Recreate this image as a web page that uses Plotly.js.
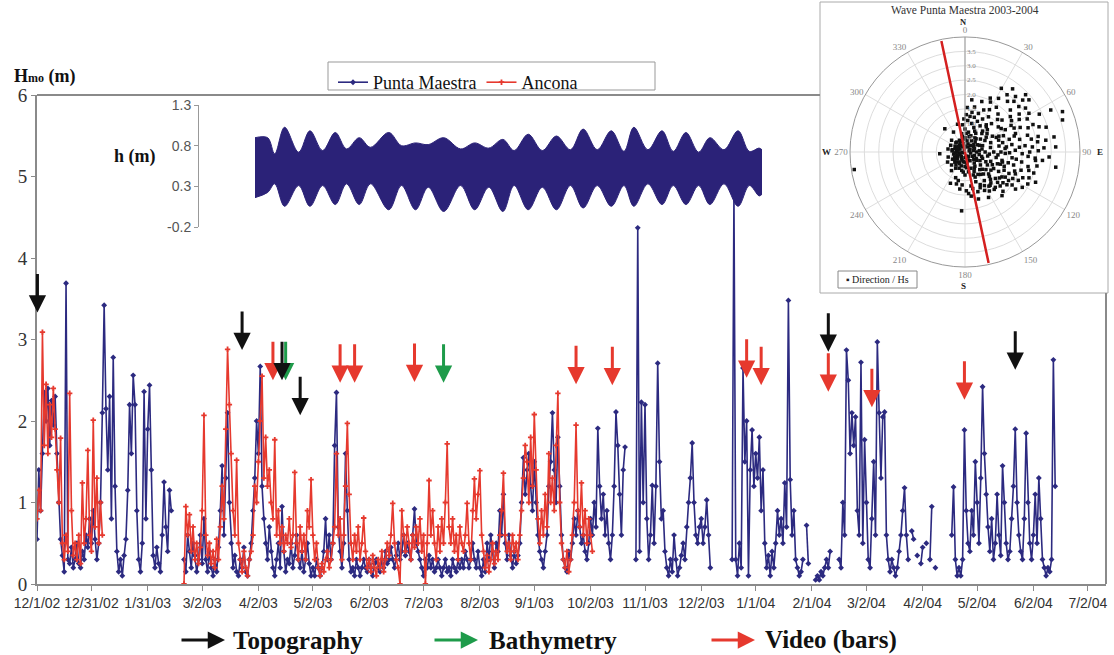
<!DOCTYPE html>
<html>
<head>
<meta charset="utf-8">
<script src="https://cdn.plot.ly/plotly-3.0.1.min.js"></script>
<style>html,body{margin:0;padding:0;background:#fff;}#chart{width:1114px;height:655px;}</style>
</head>
<body>
<div id="chart"></div>
<script>
// ---------------- DATA ----------------
// Daily Hmo (m), index = days since 2002-12-01 (null = no record)
const pmHs = [
/*0*/   0.55,1.4,0.9,1.6,2.35,2.0,2.4,1.7,2.25,1.95,
/*10*/  2.3,1.6,1.0,0.55,0.35,0.15,3.69,0.3,0.25,0.45,
/*20*/  0.2,0.3,0.5,0.25,0.2,0.4,0.3,0.6,0.45,0.8,
/*30*/  0.5,0.9,0.55,0.3,0.5,1.0,2.1,3.42,2.15,1.4,
/*40*/  2.3,0.8,2.78,1.2,0.4,0.15,0.3,0.1,0.35,0.55,
/*50*/  1.15,2.2,1.6,2.56,2.2,0.9,0.3,0.15,0.5,2.36,
/*60*/  0.8,1.9,2.44,1.4,0.35,0.2,0.45,0.25,0.15,0.6,
/*70*/  1.25,0.7,0.4,1.15,0.9,null,null,null,null,null,
/*80*/  null,0.3,0.15,0.6,0.4,0.2,0.5,0.35,0.15,0.3,
/*90*/  0.6,0.25,0.8,0.3,0.15,0.4,0.2,0.1,0.3,0.15,
/*100*/ 0.45,0.9,1.45,0.6,1.3,2.1,1.0,0.5,0.2,0.35,
/*110*/ 0.15,0.1,0.3,0.2,0.45,0.15,0.1,0.3,0.5,0.9,
/*120*/ 1.3,2.0,1.6,2.67,1.2,0.8,0.5,0.3,0.7,0.4,
/*130*/ 0.2,0.1,0.3,0.5,0.2,0.95,0.4,0.15,0.3,0.25,
/*140*/ 0.5,0.2,0.35,0.6,0.3,0.2,0.4,0.15,0.3,0.5,
/*150*/ 0.25,0.1,0.2,0.1,0.3,0.2,0.1,0.2,0.4,0.8,
/*160*/ 0.3,0.6,0.3,0.5,1.7,2.35,0.7,0.4,0.2,0.5,
/*170*/ 1.6,0.9,0.3,0.15,0.2,0.1,0.3,0.2,0.1,0.2,
/*180*/ 0.3,0.2,0.15,0.3,0.2,0.1,0.25,0.3,0.2,0.15,
/*190*/ 0.3,0.2,0.4,0.25,0.3,0.45,0.3,0.2,0.35,0.5,
/*200*/ 0.3,0.4,0.6,0.35,0.5,0.4,0.3,0.6,0.92,0.5,
/*210*/ 0.4,0.3,0.2,0.1,0.3,0.2,0.35,0.2,0.3,0.15,
/*220*/ 0.2,0.3,0.2,0.1,0.2,0.3,0.15,0.2,0.1,0.3,
/*230*/ 0.2,0.15,0.3,0.2,0.3,0.2,0.4,0.3,0.2,0.3,
/*240*/ 0.5,0.3,0.2,0.4,0.2,0.1,0.3,0.15,0.5,0.3,
/*250*/ 0.6,0.4,0.2,0.5,0.4,0.9,0.6,1.1,0.5,0.3,
/*260*/ 0.6,0.35,0.2,0.4,0.25,0.35,0.5,1.0,1.55,1.1,
/*270*/ 1.4,1.6,1.2,0.9,1.5,1.0,0.6,0.4,0.3,0.2,
/*280*/ 0.4,0.6,1.2,1.5,2.1,1.4,1.0,1.8,1.2,0.6,
/*290*/ 0.3,0.2,0.15,0.4,0.3,0.5,0.8,0.6,0.9,0.7,
/*300*/ 0.5,0.6,0.4,0.3,0.5,0.8,0.6,1.0,0.7,1.91,
/*310*/ 1.2,0.8,1.1,0.6,0.9,0.5,0.3,0.6,1.2,2.11,
/*320*/ 1.7,1.1,0.6,1.4,1.68,null,null,null,null,null,
/*330*/ 0.3,4.37,0.4,2.23,1.0,2.2,0.8,0.3,0.6,1.21,
/*340*/ 0.5,1.2,2.71,1.5,0.8,0.9,0.4,0.2,0.1,0.3,
/*350*/ 0.15,0.6,0.3,0.1,0.2,0.35,0.5,0.3,0.7,1.0,
/*360*/ 1.3,1.73,1.0,0.6,0.5,0.7,0.8,0.5,0.7,1.03,
/*370*/ 0.6,0.2,null,null,null,null,null,null,null,null,
/*380*/ null,null,null,0.3,4.8,0.3,0.1,0.5,0.2,2.65,
/*390*/ 1.5,2.0,0.1,1.4,1.89,1.2,1.6,1.3,1.8,0.9,
/*400*/ 1.4,0.5,0.2,0.35,0.1,0.4,0.2,0.5,0.9,0.6,
/*410*/ 0.8,0.5,1.24,0.7,3.48,1.28,0.6,0.9,0.3,0.2,
/*420*/ 0.1,0.15,0.3,null,0.72,0.25,null,null,null,0.05,
/*430*/ 0.1,0.05,0.15,0.1,0.2,0.3,0.2,0.4,null,null,
/*440*/ null,null,0.3,0.2,1.0,0.6,2.87,2.5,1.6,2.1,
/*450*/ 1.7,2.05,0.9,0.6,2.72,0.5,1.77,1.0,0.3,0.2,
/*460*/ 0.8,1.5,0.6,2.97,2.1,1.3,2.05,2.11,0.6,0.3,
/*470*/ 0.15,0.3,0.2,0.1,0.2,0.4,0.6,0.9,1.18,0.6,
/*480*/ 0.3,null,0.65,0.55,null,0.35,null,0.25,0.45,null,
/*490*/ 0.5,null,0.3,0.95,null,0.2,null,null,null,null,
/*500*/ null,null,null,null,0.6,1.19,0.3,0.1,0.2,0.1,
/*510*/ 0.3,1.89,0.9,0.5,0.4,0.9,0.6,1.5,1.0,0.5,
/*520*/ 1.3,2.42,1.6,1.1,0.7,0.4,0.8,0.3,0.5,1.1,
/*530*/ 0.6,0.35,1.45,1.0,0.5,0.3,0.4,0.8,1.2,1.9,
/*540*/ 1.0,0.6,0.4,0.3,0.8,1.85,1.0,0.5,0.3,0.6,
/*550*/ 1.1,0.5,1.3,0.8,0.3,0.2,0.1,0.2,0.15,0.3,
/*560*/ 2.75,1.2
];
const anHs = [
/*0*/   0.8,1.15,0.9,3.09,1.7,2.45,1.6,2.2,1.8,2.4,
/*10*/  1.9,1.4,1.0,1.79,0.5,0.3,0.6,0.4,2.34,0.9,
/*20*/  0.35,0.5,0.3,0.6,0.25,1.24,0.5,0.8,1.64,0.6,
/*30*/  0.4,2.01,0.7,1.3,0.5,1.0,0.6,null,null,null,
/*40*/  null,null,null,null,null,null,null,null,null,null,
/*50*/  null,null,null,null,null,null,null,null,null,null,
/*60*/  null,null,null,null,null,null,null,null,null,null,
/*70*/  null,null,null,null,null,null,null,null,null,null,
/*80*/  null,0.0,0.95,0.6,0.85,0.4,0.7,0.3,0.5,0.25,
/*90*/  0.45,0.9,2.07,0.6,0.35,0.5,0.25,0.4,0.2,0.55,
/*100*/ 0.3,0.7,1.2,0.8,1.9,2.88,2.2,1.6,0.9,0.6,
/*110*/ 1.52,0.5,0.3,0.15,0.4,0.2,0.1,0.3,0.4,0.6,
/*120*/ 1.2,1.0,1.5,2.0,2.55,1.3,1.8,1.2,1.4,1.0,
/*130*/ 0.8,1.77,0.6,0.9,0.5,0.7,0.4,0.6,0.5,0.8,
/*140*/ 0.45,0.6,1.37,0.5,0.3,0.7,0.4,0.6,0.3,0.9,
/*150*/ 0.7,1.28,0.6,0.3,0.5,0.2,0.1,0.25,0.15,0.3,
/*160*/ 0.4,0.2,0.3,0.5,0.7,1.6,0.6,0.8,0.3,0.6,
/*170*/ 1.2,1.97,1.1,0.5,0.3,0.6,0.4,0.7,0.3,0.5,
/*180*/ 0.81,0.4,0.2,0.3,0.15,0.35,0.2,0.1,0.3,0.2,
/*190*/ 0.4,0.15,0.3,0.5,0.35,0.6,0.99,0.5,0.3,0.2,
/*200*/ 0.0,0.9,0.6,0.4,0.7,0.5,0.3,0.6,0.45,0.7,
/*210*/ 0.5,0.8,0.4,0.6,0.0,0.5,1.27,0.6,0.9,0.5,
/*220*/ 0.3,0.7,0.4,0.8,0.5,1.0,1.72,0.7,0.5,0.8,
/*230*/ 0.4,0.6,0.3,0.7,0.5,0.4,0.6,0.99,0.5,0.3,
/*240*/ 0.9,1.29,0.8,1.1,1.39,0.6,0.4,0.2,0.35,0.15,
/*250*/ 0.3,0.5,0.25,0.4,0.3,0.6,0.9,1.36,0.6,0.4,
/*260*/ 0.5,0.3,0.6,0.4,0.5,0.3,0.6,0.9,1.3,1.7,
/*270*/ 1.5,1.0,1.8,1.2,2.08,1.4,0.8,0.5,0.9,0.6,
/*280*/ 1.1,0.7,1.6,1.0,1.3,0.9,1.7,2.34,1.0,0.5,
/*290*/ 0.3,0.2,0.4,0.15,0.3,0.6,1.0,1.95,0.9,0.7,
/*300*/ 1.24,0.6,0.9,0.5,0.8,0.6,0.4
];
const startDate = '2002-12-01';

// x-axis tick labels
const tickDates = ['2002-12-01','2002-12-31','2003-01-31','2003-03-02','2003-04-02','2003-05-02','2003-06-02','2003-07-02','2003-08-02','2003-09-01','2003-10-02','2003-11-01','2003-12-02','2004-01-01','2004-02-01','2004-03-02','2004-04-02','2004-05-02','2004-06-02','2004-07-02'];
const tickLabels = ['12/1/02','12/31/02','1/31/03','3/2/03','4/2/03','5/2/03','6/2/03','7/2/03','8/2/03','9/1/03','10/2/03','11/1/03','12/2/03','1/1/04','2/1/04','3/2/04','4/2/04','5/2/04','6/2/04','7/2/04'];

// survey events (arrow tip level in Hmo units)
const videoDates  = ['2003-04-10','2003-05-17','2003-05-25','2003-06-27','2003-09-24','2003-10-14','2003-12-27','2004-01-04','2004-02-10','2004-03-05','2004-04-25'];
const videoLevels = [2.50,2.47,2.47,2.48,2.45,2.44,2.53,2.44,2.36,2.17,2.26];
const bathyDates  = ['2003-04-17','2003-07-13'];
const bathyLevels = [2.50,2.47];
const topoDates   = ['2002-12-01T06:00','2003-03-24','2003-04-15','2003-04-25','2004-02-10','2004-05-23'];
const topoLevels  = [3.33,2.87,2.50,2.07,2.85,2.63];

// tide inset: envelope of water level h (m)
const tideDay   = [0,9,14,21,31,39,48,57,65,74,82,95,104,114,123,134,146,156,166,176,184,194,204,214,224,233,243,253,262,269,279,289,297,306,315,323,333,343,351,358,360];
const tideHigh  = [0.898,0.898,0.70,1.026,0.72,0.983,0.74,0.962,0.76,0.898,0.78,0.962,0.80,0.834,0.813,0.898,0.76,0.834,0.77,0.877,0.74,0.941,0.74,0.919,0.75,1.004,0.75,0.983,0.73,1.026,0.75,0.983,0.73,0.962,0.72,0.898,0.75,0.983,0.73,0.770,0.749];
const tideLow   = [0.161,0.225,0.331,0.054,0.310,0.054,0.310,0.076,0.331,0.076,0.331,0.012,0.310,0.012,0.289,-0.009,0.310,0.012,0.289,-0.009,0.310,0.012,0.289,0.012,0.310,0.033,0.310,0.054,0.310,0.054,0.331,0.076,0.310,0.076,0.310,0.076,0.331,0.054,0.310,0.182,0.203];
const tideTicks = [1.3,0.8,0.3,-0.2];

// polar inset: wave direction (deg) / Hs (m)
const waveDir = [29.7,36.3,42.3,46.6,50.8,63.9,67.5,71.8,80.4,86.8,93.4,99.5,113.2,121.7,126.3,139.7,152.6,164,183.3,266,319,7.4,18.4,25.1,261,47.2,49.8,58.8,71.2,81.7,85.7,96.2,106.1,113.5,123.2,139.4,70.6,69.9,49.2,33.7,19.2,13.3,91.7,96.8,102.8,132.9,158,193.3,216,253.3,311.3,349.8,42.4,
35,40,45,52,55,57,60,62,65,66,68,74,75,77,78,83,84,88,89,92,94,98,101,104,108,110,112,116,118,120,124,128,131,134,137,143,146,150,155,160,28,24,30,38,43,15,10,5,2,355,345,200,205,188,175,170,226,240,280,295,330,
32,37,41,44,48,53,54,56,59,61,63,64,67,69,72,73,76,79,81,82,85,87,90,91,95,97,100,103,105,107,109,111,114,115,117,119,122,125,127,129,133,136,140,142,145,148,153,157,162,168,172,178,185,195,22,27,12,8,358,3,
0,0,0,20,20,20,40,40,40,40,60,60,60,60,80,80,80,80,100,100,100,100,120,120,120,120,140,140,140,140,160,160,160,180,180,180,200,200,220,220,240,240,260,260,280,280,300,300,320,320,340,340,10,10,30,30,30,50,50,50,70,70,70,90,90,90,90,110,110,110,110,130,130,130,150,150,150,170,170,190,190,210,210,230,250,270,290,310,330,350,350,75,165,255,345,
15,25,35,45,55,65,85,95,105,115,125,135,145,155,175,185,195,205,215,225,235,245,265,275,285,305,315,325,335,355,5,45,65,85,95,105,115,125,135,145,60,120,180,240,300,30,150,210];
const waveHs = [2.55,2.47,2.61,2.9,2.87,3.32,3.67,3.57,3.14,3.16,2.93,3.2,2.67,2.34,2.18,1.99,1.78,1.7,2.05,0.88,1.07,1.83,1.85,2.07,3.9,2.15,2.45,2.6,2.72,2.84,2.35,2.71,2.31,1.91,1.81,1.62,1.24,1.87,1.7,1.47,1.42,1.02,1.99,2.47,1.32,1.12,0.94,1.02,0.8,0.61,0.62,0.65,0.87,
1.9,2.3,1.6,2.0,2.3,1.5,1.85,2.45,1.3,2.1,2.55,1.6,2.25,1.95,2.6,1.45,2.1,1.75,2.55,1.4,2.2,1.8,2.55,1.55,2.05,1.45,2.4,1.7,2.1,1.35,1.55,1.85,1.4,1.7,1.3,1.45,1.2,1.35,1.25,1.1,1.3,1.6,1.7,1.2,1.35,1.25,1.4,1.1,1.3,0.95,1.0,0.95,1.2,1.3,1.45,1.2,0.65,0.7,0.6,0.55,0.8,
2.2,2.75,1.75,2.45,2.7,1.45,2.6,1.95,2.2,1.6,2.9,1.9,1.45,2.35,1.8,2.95,1.35,2.35,1.65,2.55,1.9,2.75,2.25,1.55,2.45,1.65,2.0,2.25,1.75,2.5,1.3,1.85,2.2,1.5,2.45,1.9,1.65,2.0,1.5,1.7,1.55,1.9,1.4,1.65,1.45,1.6,1.5,1.35,1.45,1.3,1.55,1.35,1.15,1.15,1.15,1.95,1.6,1.25,1.15,1.55,
0.2,0.5,0.8,0.3,0.6,0.9,0.3,0.6,0.95,1.15,0.2,0.5,0.8,1.1,0.3,0.6,0.9,1.2,0.2,0.5,0.8,1.1,0.3,0.6,0.9,1.15,0.2,0.5,0.8,1.0,0.3,0.6,0.85,0.2,0.5,0.8,0.3,0.6,0.2,0.45,0.3,0.5,0.2,0.4,0.3,0.45,0.2,0.4,0.3,0.45,0.2,0.4,0.4,0.7,0.45,0.75,1.05,0.4,0.7,1.0,0.35,0.65,0.95,0.4,0.7,1.0,1.25,0.35,0.65,0.95,1.2,0.4,0.7,0.95,0.35,0.65,0.9,0.4,0.7,0.35,0.65,0.4,0.65,0.35,0.3,0.3,0.35,0.3,0.35,0.3,0.55,0.15,0.15,0.1,0.1,
0.55,0.8,0.6,0.5,0.9,0.55,0.5,0.85,0.6,0.8,0.5,0.85,0.6,0.75,0.55,0.7,0.5,0.45,0.55,0.5,0.45,0.4,0.35,0.45,0.25,0.3,0.45,0.25,0.45,0.45,0.65,1.1,1.2,1.4,1.15,1.35,1.05,1.1,1.2,0.95,0.35,0.45,0.35,0.2,0.3,0.2,0.2,0.25];
const trendDir = [348,348,168];
const trendHs  = [3.95,0,3.95];
const compassDeg = [0,30,60,90,120,150,180,210,240,270,300,330];

// ---------------- BUILD ----------------
const base = new Date(startDate + 'T00:00:00Z').getTime();
const dayToDate = d => new Date(base + d * 86400000).toISOString().slice(0, 10);
const pmX = pmHs.map((v, i) => dayToDate(i));
const anX = anHs.map((v, i) => dayToDate(i));

const W = 1114, H = 655;
const px = x => x / W;
const py = y => 1 - y / H;

const NAVY = '#2C2A80', RED = '#E6392E', GREEN = '#1E9B4A', BLACK = '#111111';
const SERIF = 'Liberation Serif, Times New Roman, serif';
const SANS = 'Liberation Sans, Arial, sans-serif';

const traces = [
  {x: pmX, y: pmHs, name: 'Punta Maestra', type: 'scatter', mode: 'lines+markers', connectgaps: false,
   line: {color: NAVY, width: 1.6}, marker: {symbol: 'diamond', size: 4.5, color: NAVY}, xaxis: 'x', yaxis: 'y'},
  {x: anX, y: anHs, name: 'Ancona', type: 'scatter', mode: 'lines+markers', connectgaps: false,
   line: {color: RED, width: 1.6}, marker: {symbol: 'cross', size: 4.5, color: RED}, xaxis: 'x', yaxis: 'y'},
  {x: tideDay, y: tideLow, type: 'scatter', mode: 'lines', showlegend: false, hoverinfo: 'skip',
   line: {color: '#2B2278', width: 1, shape: 'spline', smoothing: 1}, xaxis: 'x2', yaxis: 'y2'},
  {x: tideDay, y: tideHigh, type: 'scatter', mode: 'lines', showlegend: false, hoverinfo: 'skip', fill: 'tonexty',
   fillcolor: '#2B2278', line: {color: '#2B2278', width: 1, shape: 'spline', smoothing: 1}, xaxis: 'x2', yaxis: 'y2'},
  {type: 'scatterpolar', r: waveHs, theta: waveDir, mode: 'markers', showlegend: false,
   marker: {symbol: 'square', size: 3.5, color: '#111'}, subplot: 'polar'},
  {type: 'scatterpolar', r: trendHs, theta: trendDir, mode: 'lines', showlegend: false,
   line: {color: '#D42020', width: 2.5}, subplot: 'polar'}
];

const annotations = [];
function addArrows(dates, levels, color) {
  dates.forEach((d, i) => annotations.push({
    x: d, y: levels[i], xref: 'x', yref: 'y', text: '', showarrow: true,
    ax: 0, ay: -40, arrowhead: 2, arrowsize: 1.15, arrowwidth: 3, arrowcolor: color
  }));
}
addArrows(videoDates, videoLevels, RED);
addArrows(bathyDates, bathyLevels, GREEN);
addArrows(topoDates, topoLevels, BLACK);

// bottom key
[[225, BLACK, 'Topography', 231], [478, GREEN, 'Bathymetry', 487], [755, RED, 'Video (bars)', 763]].forEach(k => {
  annotations.push({x: px(k[0]), y: py(640), xref: 'paper', yref: 'paper', text: '', showarrow: true,
    ax: -45, ay: 0, arrowhead: 2, arrowsize: 1.15, arrowwidth: 3, arrowcolor: k[1]});
  annotations.push({x: px(k[3]), y: py(640), xref: 'paper', yref: 'paper', text: '<b>' + k[2] + '</b>',
    showarrow: false, xanchor: 'left', yanchor: 'middle', font: {family: SERIF, size: 25, color: '#111'}});
});

const lab = (x, y, text, size, color, anchor) => ({x: px(x), y: py(y), xref: 'paper', yref: 'paper',
  xanchor: anchor || 'center', yanchor: 'middle', showarrow: false, text: text,
  font: {family: SERIF, size: size, color: color}});
annotations.push(
  lab(12, 76, '<b>H<span style="font-size:12px">mo</span> (m)</b>', 18, '#111', 'left'),
  lab(135, 157, '<b>h (m)</b>', 18, '#111'),
  lab(965, 10, 'Wave Punta Maestra 2003-2004', 11.5, '#333'),
  lab(964, 22, '<b>N</b>', 8.5, '#222'),
  lab(963, 286, '<b>S</b>', 9, '#222'),
  lab(1100, 152, '<b>E</b>', 9, '#222'),
  lab(826, 152, '<b>W</b>', 9, '#222'),
  lab(877, 279, '▪ Direction / Hs', 10, '#222')
);

const shapes = [
  {type: 'rect', xref: 'paper', yref: 'paper', x0: px(820), x1: px(1108), y0: py(293), y1: py(2),
   line: {color: '#aaaaaa', width: 1}, fillcolor: '#ffffff', layer: 'below'},
  {type: 'rect', xref: 'paper', yref: 'paper', x0: px(838), x1: px(917), y0: py(288), y1: py(271),
   line: {color: '#888', width: 1}, fillcolor: 'rgba(0,0,0,0)'},
  {type: 'line', xref: 'paper', yref: 'paper', x0: px(37), x1: px(820), y0: py(95), y1: py(95),
   line: {color: '#8a8a8a', width: 2}},
  {type: 'line', xref: 'paper', yref: 'paper', x0: px(1106), x1: px(1106), y0: py(293), y1: py(584),
   line: {color: '#8a8a8a', width: 2}},
  {type: 'rect', xref: 'paper', yref: 'paper', x0: px(328), x1: px(655), y0: py(90), y1: py(62),
   line: {color: '#999', width: 1}, fillcolor: 'rgba(0,0,0,0)'}
];

const layout = {
  width: W, height: H,
  margin: {l: 0, r: 0, t: 0, b: 0},
  paper_bgcolor: '#ffffff', plot_bgcolor: 'rgba(0,0,0,0)',
  showlegend: true,
  legend: {x: px(333), y: py(64), xanchor: 'left', yanchor: 'top', orientation: 'h', traceorder: 'normal',
    bgcolor: 'rgba(0,0,0,0)', font: {family: SERIF, size: 18, color: '#111'}},
  xaxis: {type: 'date', domain: [px(37), px(1106)], range: ['2002-12-01', '2004-07-12'],
    tickvals: tickDates, ticktext: tickLabels, tickangle: 0,
    showline: true, linecolor: '#8a8a8a', linewidth: 2, ticks: 'outside', ticklen: 5, tickcolor: '#8a8a8a',
    showgrid: false, zeroline: false, tickfont: {family: SANS, size: 14, color: '#333'}, anchor: 'y'},
  yaxis: {domain: [py(584), py(95)], range: [0, 6], dtick: 1, anchor: 'x',
    showline: true, linecolor: '#8a8a8a', linewidth: 2, ticks: 'outside', ticklen: 4, tickcolor: '#8a8a8a',
    showgrid: false, zeroline: false, tickfont: {family: SERIF, size: 19, color: '#333'}},
  xaxis2: {domain: [px(255), px(762)], range: [0, 360], anchor: 'y2', visible: false, showgrid: false, zeroline: false},
  yaxis2: {domain: [py(227), py(105)], range: [-0.2, 1.3], anchor: 'free', position: px(198),
    tickvals: tideTicks, ticktext: tideTicks.map(v => v.toFixed(1)),
    showline: true, linecolor: '#999', linewidth: 1, ticks: 'outside', ticklen: 4, tickcolor: '#999',
    showgrid: false, zeroline: false, tickfont: {family: SANS, size: 14, color: '#555'}},
  polar: {
    domain: {x: [px(850), px(1080)], y: [py(267), py(37)]},
    bgcolor: '#ffffff',
    angularaxis: {rotation: 90, direction: 'clockwise', tickmode: 'array', tickvals: compassDeg,
      ticktext: compassDeg.map(String), showline: true, linecolor: '#999', linewidth: 1,
      gridcolor: '#dddddd', ticks: '', tickfont: {family: SERIF, size: 9, color: '#888'}},
    radialaxis: {range: [0, 4], angle: 90, tickangle: 90, tickvals: [0.5,1,1.5,2,2.5,3,3.5],
      ticktext: ['.5','1.0','1.5','2.0','2.5','3.0','3.5'], showline: true, linecolor: '#999',
      gridcolor: '#dddddd', ticks: '', tickfont: {family: SERIF, size: 7, color: '#888'}}
  },
  annotations: annotations,
  shapes: shapes
};

Plotly.newPlot('chart', traces, layout, {displayModeBar: false, staticPlot: true});
</script>
</body>
</html>
